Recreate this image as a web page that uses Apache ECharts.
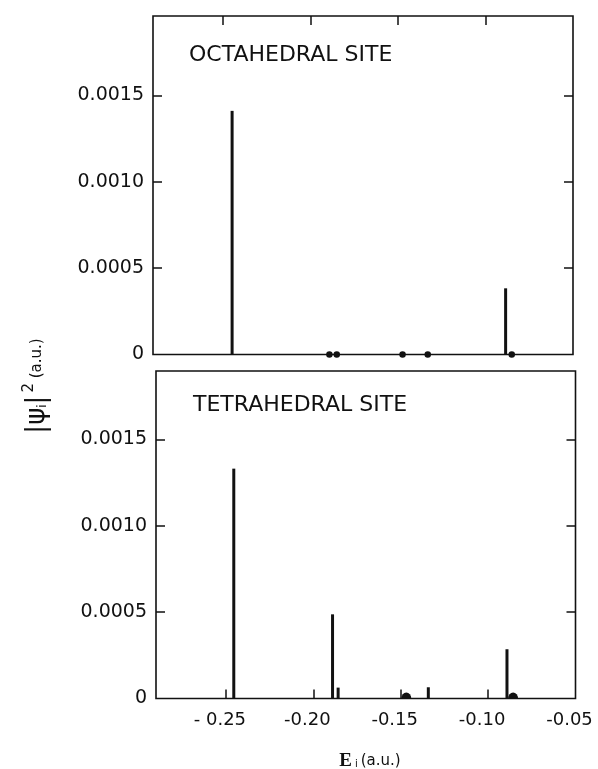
<!DOCTYPE html>
<html>
<head>
<meta charset="utf-8">
<script src="https://cdn.jsdelivr.net/npm/echarts@6/dist/echarts.min.js"></script>
<style>html,body{margin:0;padding:0;background:#fff}#c{width:598px;height:769px}</style>
</head>
<body>
<div id="c"></div>
<script>
// ---- data ----
const xTickValues = [-0.25, -0.20, -0.15, -0.10, -0.05];
const xTickLabels = ['- 0.25', '-0.20', '-0.15', '-0.10', '-0.05'];
const yTickValues = [0, 0.0005, 0.0010, 0.0015];
const yTickLabels = ['0', '0.0005', '0.0010', '0.0015'];

const octaBarE = [-0.2448, -0.0885];
const octaBarPsi = [0.00141, 0.000383];
const octaDotE = [-0.1892, -0.1850, -0.1474, -0.1330, -0.0850];

const tetraBarE = [-0.2455, -0.1890, -0.1858, -0.1342, -0.0892];
const tetraBarPsi = [0.00133, 0.000487, 0.000063, 0.000065, 0.000285];
const tetraDotE = [-0.1468, -0.0857];

const panelTitles = ['OCTAHEDRAL SITE', 'TETRAHEDRAL SITE'];

// ---- chart ----
const INK = '#111';
const FONT = 'DejaVu Sans';
const pairs = (xs, ys) => xs.map((x, i) => [x, ys[i]]);
const zeros = xs => xs.map(x => [x, 0]);
const xLab = v => { const i = xTickValues.findIndex(t => Math.abs(t - v) < 1e-9); return i >= 0 ? xTickLabels[i] : ''; };
const yLab = v => { const i = yTickValues.findIndex(t => Math.abs(t - v) < 1e-9); return i >= 0 ? yTickLabels[i] : ''; };

const tickStyle = (vals) => ({show: true, inside: true, length: 9, customValues: vals, lineStyle: {color: INK, width: 1.5}});

function xAxisDef(grid, pos, showLabels) {
  return {
    type: 'value', gridIndex: grid, position: pos, min: -0.29, max: -0.05,
    axisLine: {show: false, onZero: false}, splitLine: {show: false},
    axisTick: tickStyle(xTickValues.slice(0, 4)),
    axisLabel: {show: showLabels, customValues: xTickValues, formatter: xLab,
      color: INK, fontFamily: FONT, fontSize: 18, margin: 13, padding: [0, 12, 0, 0]}
  };
}
function yAxisDef(grid, pos, max, showLabels) {
  return {
    type: 'value', gridIndex: grid, position: pos, min: 0, max: max,
    axisLine: {show: false, onZero: false}, splitLine: {show: false},
    axisTick: tickStyle(yTickValues.slice(1)),
    axisLabel: {show: showLabels, customValues: yTickValues, formatter: yLab,
      color: INK, fontFamily: FONT, fontSize: 19, margin: 9}
  };
}

const halfDisc = 'path://M0,10 A10,10 0 0 1 20,10 Z';

const chart = echarts.init(document.getElementById('c'), null, {renderer: 'canvas'});
chart.setOption({
  backgroundColor: '#fff',
  animation: false,
  grid: [
    {left: 153, right: 25, top: 16, height: 338.5, show: true, borderColor: INK, borderWidth: 1.6, backgroundColor: 'transparent'},
    {left: 156, right: 22.5, top: 371, height: 327.5, show: true, borderColor: INK, borderWidth: 1.6, backgroundColor: 'transparent'}
  ],
  xAxis: [
    xAxisDef(0, 'top', false),
    xAxisDef(1, 'bottom', true)
  ],
  yAxis: [
    yAxisDef(0, 'left', 0.001959, true),
    yAxisDef(0, 'right', 0.001959, false),
    yAxisDef(1, 'left', 0.001895, true),
    yAxisDef(1, 'right', 0.001895, false)
  ],
  series: [
    {type: 'bar', xAxisIndex: 0, yAxisIndex: 0, data: pairs(octaBarE, octaBarPsi), barWidth: 3,
      itemStyle: {color: INK}, z: 3},
    {type: 'scatter', xAxisIndex: 0, yAxisIndex: 0, data: zeros(octaDotE), symbolSize: 6.5, clip: false,
      itemStyle: {color: INK, opacity: 1}, z: 4},
    {type: 'bar', xAxisIndex: 1, yAxisIndex: 2, data: pairs(tetraBarE, tetraBarPsi), barWidth: 3,
      itemStyle: {color: INK}, z: 3},
    {type: 'scatter', xAxisIndex: 1, yAxisIndex: 2, data: zeros(tetraDotE), symbol: halfDisc,
      symbolSize: [10, 6], symbolOffset: [0, -3], clip: false,
      itemStyle: {color: INK, opacity: 1}, z: 4}
  ],
  graphic: [
    {type: 'text', left: 189, top: 44, style: {text: panelTitles[0], font: '22px "DejaVu Sans"', fill: INK}},
    {type: 'text', left: 193, top: 394, style: {text: panelTitles[1], font: '22px "DejaVu Sans"', fill: INK}},
    {type: 'text', x: 37, y: 386, rotation: Math.PI / 2,
      style: {text: '{a||ψ}{s|i}{a||}{p|2}{b| (a.u.)}', align: 'center', verticalAlign: 'middle', fill: INK,
        rich: {
          a: {fontFamily: FONT, fontSize: 26, fill: INK},
          s: {fontFamily: FONT, fontSize: 12, fill: INK, padding: [12, 0, 0, 0]},
          p: {fontFamily: FONT, fontSize: 15, fill: INK, padding: [0, 0, 16, 3]},
          b: {fontFamily: FONT, fontSize: 15, fill: INK}
        }}},
    {type: 'text', x: 370, y: 761,
      style: {text: '{e|E}{s|i}{b|(a.u.)}', align: 'center', verticalAlign: 'middle', fill: INK,
        rich: {
          e: {fontFamily: 'Liberation Serif', fontWeight: 'bold', fontSize: 19, fill: INK},
          s: {fontFamily: FONT, fontSize: 10, fill: INK, padding: [6, 3, 0, 3]},
          b: {fontFamily: FONT, fontSize: 15, fill: INK}
        }}}
  ]
});
</script>
</body>
</html>
